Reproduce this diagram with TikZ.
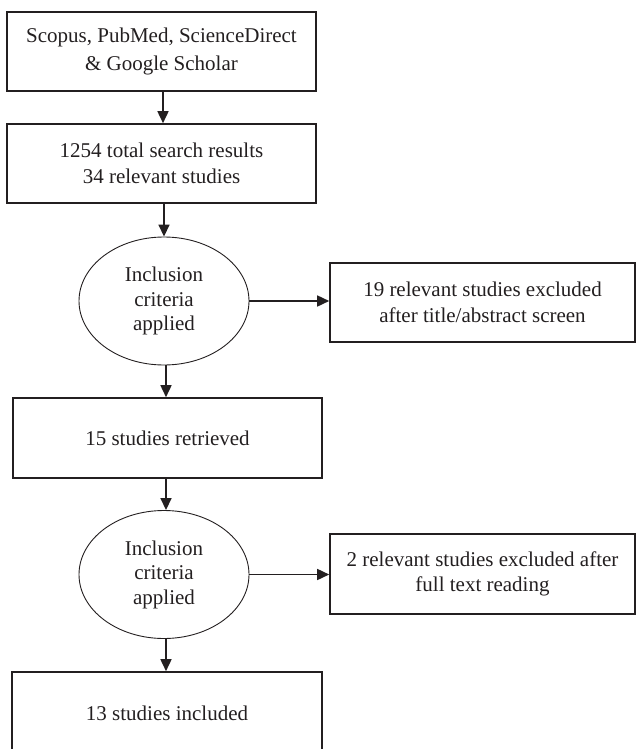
\documentclass[tikz,border=0pt]{standalone}
\usepackage{fontspec}
\setmainfont{Liberation Serif}
\usetikzlibrary{shapes.geometric,arrows.meta}
\definecolor{ink}{RGB}{35,31,32}
\tikzset{
  boxnode/.style={draw=ink, line width=1.6pt, rectangle, inner sep=0pt, align=center,
    font=\fontsize{21}{26}\selectfont, text=ink},
  ellnode/.style={draw=ink, line width=0.9pt, ellipse, inner sep=0pt, align=center,
    minimum width=170pt, minimum height=128pt, font=\fontsize{21}{24.5}\selectfont, text=ink},
  conn/.style={draw=ink, line width=1.6pt, -{Triangle[length=12pt,width=11pt]}}
}
\begin{document}
\begin{tikzpicture}[x=1pt,y=-1pt]
\useasboundingbox (0,0) rectangle (636,749);
\clip (0,0) rectangle (636,749);
\node[boxnode, minimum width=309pt, minimum height=79pt, font=\fontsize{21}{28.5}\selectfont] (b1) at (161.5,51.5) {Scopus, PubMed, ScienceDirect\\\& Google Scholar};
\node[boxnode, minimum width=309pt, minimum height=79pt, font=\fontsize{21}{25.5}\selectfont] (b2) at (161.5,163.5) {1254 total search results\\34 relevant studies};
\node[ellnode] (e1) at (164,301) {Inclusion\\criteria\\applied};
\node[boxnode, minimum width=305pt, minimum height=79pt] (r1) at (482.5,302.5) {19 relevant studies excluded\\after title/abstract screen};
\node[boxnode, minimum width=309pt, minimum height=80pt] (b3) at (167.5,438) {15 studies retrieved};
\node[ellnode] (e2) at (164,574.5) {Inclusion\\criteria\\applied};
\node[boxnode, minimum width=305pt, minimum height=80pt, font=\fontsize{21}{25}\selectfont] (r2) at (482.5,574) {2 relevant studies excluded after\\full text reading};
\node[boxnode, minimum width=310pt, minimum height=82pt] (b4) at (167,713) {13 studies included};
\draw[conn] (b1.south -| 163,0) -- (b2.north -| 163,0);
\draw[conn] (b2.south -| e1.north) -- (e1.north);
\draw[conn] (e1.east) -- (r1.west |- e1.east);
\draw[conn] (e1.south -| 166,0) -- (b3.north -| 166,0);
\draw[conn] (b3.south -| 166,0) -- (e2.north -| 166,0);
\draw[conn] (e2.east) -- (r2.west |- e2.east);
\draw[conn] (e2.south -| 166,0) -- (b4.north -| 166,0);
\end{tikzpicture}
\end{document}
